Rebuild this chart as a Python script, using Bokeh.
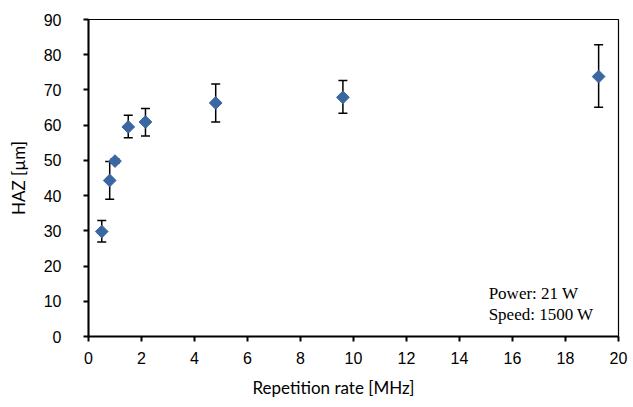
import math
from bokeh.plotting import figure
from bokeh.models import Range1d, Whisker, ColumnDataSource, Label, FixedTicker, TeeHead, Title
from bokeh.embed import file_html
from bokeh.resources import INLINE

rep_rate = [0.5, 0.8, 1.0, 1.5, 2.15, 4.8, 9.6, 19.25]
haz = [29.8, 44.3, 49.8, 59.5, 60.9, 66.3, 67.9, 73.8]
err_upper = [32.9, 49.7, 50.4, 62.8, 64.7, 71.7, 72.7, 82.8]
err_lower = [26.8, 39.0, 49.2, 56.4, 56.9, 60.9, 63.4, 65.1]
x_ticks = [0, 2, 4, 6, 8, 10, 12, 14, 16, 18, 20]
y_ticks = [0, 10, 20, 30, 40, 50, 60, 70, 80, 90]
notes = ["Power: 21 W", "Speed: 1500 W"]
x_title = "Repetition rate [MHz]"
y_title = "HAZ [µm]"

src = ColumnDataSource(dict(x=rep_rate, y=haz, up=err_upper, lo=err_lower))

p = figure(width=633, height=407, output_backend="svg", toolbar_location=None,
           x_range=Range1d(0, 20), y_range=Range1d(0, 90),
           min_border_left=88, min_border_right=15, min_border_top=19, min_border_bottom=71)
p.xgrid.visible = False
p.ygrid.visible = False
p.outline_line_color = "black"
p.outline_line_width = 1.2
p.background_fill_color = "white"
p.border_fill_color = "white"

for ax in (p.xaxis[0], p.yaxis[0]):
    ax.axis_line_color = "black"
    ax.axis_line_width = 2
    ax.major_tick_line_color = "black"
    ax.major_tick_line_width = 2
    ax.major_tick_out = 5
    ax.major_tick_in = 0
    ax.minor_tick_line_color = None
    ax.major_label_text_font = "Liberation Sans"
    ax.major_label_text_font_size = "16px"
    ax.major_label_text_color = "black"
    ax.axis_label_text_font = "Lato"
    ax.axis_label_text_font_style = "normal"
    ax.axis_label_text_font_size = "17px"
    ax.axis_label_text_color = "black"

p.xaxis[0].ticker = FixedTicker(ticks=x_ticks)
p.yaxis[0].ticker = FixedTicker(ticks=y_ticks)
p.yaxis[0].axis_label = y_title
p.xaxis[0].major_label_standoff = 10
p.yaxis[0].major_label_standoff = 22
p.yaxis[0].axis_label_standoff = 12

p.add_layout(Title(text=x_title, align="left", offset=164, text_font="Lato",
                   text_font_size="17px", text_font_style="normal",
                   text_color="black", standoff=17), "below")

w = Whisker(source=src, base="x", upper="up", lower="lo", dimension="height",
            line_color="black", line_width=1.5,
            upper_head=TeeHead(size=9, line_color="black", line_width=1.5),
            lower_head=TeeHead(size=9, line_color="black", line_width=1.5))
p.add_layout(w)

p.scatter("x", "y", source=src, marker="square", size=9, angle=math.pi / 4,
          fill_color="#3A67A2", line_color="#3A67A2")

for txt, yy in zip(notes, [12.2, 6.2]):
    p.add_layout(Label(x=15.1, y=yy, text=txt, text_font="Liberation Serif",
                       text_font_size="17px", text_color="black",
                       text_baseline="middle", text_align="left"))

open("out.html", "w").write(file_html(p, INLINE))
